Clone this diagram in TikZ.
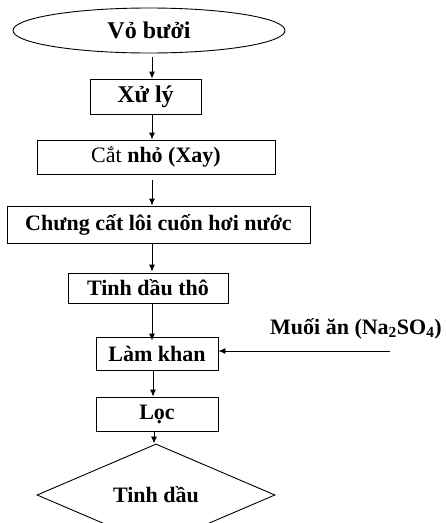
\documentclass[tikz,border=0pt]{standalone}
\usepackage{fontspec}
\setmainfont{Liberation Serif}
\usetikzlibrary{shapes.geometric,arrows.meta}
\tikzset{
  box/.style={draw, line width=0.9pt, rectangle, inner sep=0pt, font=\fontsize{22}{24}\selectfont\bfseries},
  ell/.style={draw, line width=0.9pt, ellipse, inner sep=0pt, font=\fontsize{24}{26}\selectfont\bfseries},
  dia/.style={draw, line width=0.9pt, diamond, inner sep=0pt, font=\fontsize{22}{24}\selectfont\bfseries},
  arr/.style={line width=0.9pt, -{Latex[length=7pt,width=6pt]}},
  lbl/.style={inner sep=0pt, font=\fontsize{22}{24}\selectfont\bfseries}
}
\begin{document}
\begin{tikzpicture}[x=1pt,y=-1pt]
\useasboundingbox (0,0) rectangle (446,523);
\node[ell, minimum width=272pt, minimum height=45pt] (vo) at (149,30.5) {Vỏ bưởi};
\node[box, minimum width=111pt, minimum height=35pt, font=\fontsize{24}{26}\selectfont\bfseries] (xl) at (145.5,96.5) {Xử lý};
\node[box, minimum width=238pt, minimum height=34pt] (cn) at (156,157) {\mdseries Cắt \bfseries nhỏ (Xay)};
\node[box, minimum width=303pt, minimum height=37pt] (cc) at (158.5,224.5) {Chưng cất lôi cuốn hơi nước};
\node[box, minimum width=160pt, minimum height=30pt] (tdt) at (148,288) {Tinh dầu thô};
\node[box, minimum width=122pt, minimum height=33pt] (lk) at (157,353.5) {Làm khan};
\node[box, minimum width=122pt, minimum height=34pt] (loc) at (157,414) {Lọc};
\node[dia, minimum width=238pt, minimum height=64pt] (td) at (156,495) {Tinh dầu};
\node[lbl] (mu) at (356,329) {Muối ăn (Na\textsubscript{2}SO\textsubscript{4})};
\coordinate (ax) at (152,0);
\coordinate (mue) at (390,351);
\draw[arr] ([yshift=-4pt]vo.south -| ax) -- (xl.north -| ax);
\draw[arr] (xl.south -| ax) -- (cn.north -| ax);
\draw[arr] ([yshift=-6pt]cn.south -| ax) -- (cc.north -| ax);
\draw[arr] (cc.south -| ax) -- ([yshift=1pt]tdt.north -| ax);
\draw[arr] (tdt.south -| ax) -- ([yshift=-4pt]lk.north -| ax);
\draw[arr] (lk.south -| 153,0) -- (loc.north -| 153,0);
\draw[arr] (loc.south -| 154,0) -- (td.north -| 154,0);
\draw[arr] (mue) -- (lk.east |- mue);
\end{tikzpicture}
\end{document}
